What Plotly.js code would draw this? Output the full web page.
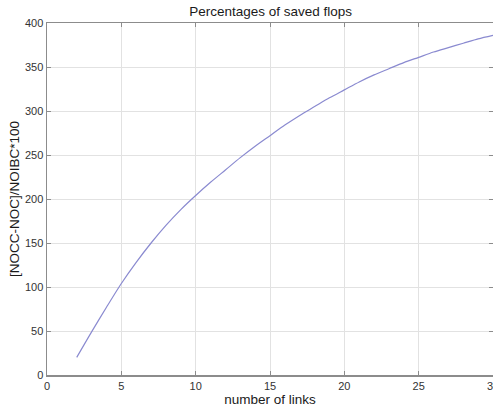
<!DOCTYPE html>
<html>
<head>
<meta charset="utf-8">
<script src="https://cdn.plot.ly/plotly-3.0.1.min.js"></script>
<style>html,body{margin:0;padding:0;background:#fff;}#chart{width:493px;height:410px;}</style>
</head>
<body>
<div id="chart"></div>
<script>
const links = [2,3,4,5,6,7,8,9,10,11,12,13,14,15,16,17,18,19,20,21,22,23,24,25,26,27,28,29,30];
const savedFlops = [20,49,77,104,128,150,170,188,204,219,233,247,260,272,284,295,305,315,324,333,341,348,355,361,367,372,377,382,386];
const xTicks = [0,5,10,15,20,25,30];
const yTicks = [0,50,100,150,200,250,300,350,400];

const FONT = 'Liberation Sans, Arial, sans-serif';

const trace = {
  x: links, y: savedFlops, type: 'scatter', mode: 'lines',
  line: {color: '#8a8ad0', width: 1.2, shape: 'spline', smoothing: 0.8}, hoverinfo: 'none'
};

const axisCommon = {
  showline: true, linecolor: '#8c8c8c', linewidth: 1.5, mirror: 'ticks',
  ticks: 'inside', ticklen: 4, tickcolor: '#8c8c8c', tickwidth: 1,
  showgrid: true, gridcolor: '#e2e2e2', gridwidth: 1, zeroline: false,
  ticklabeloverflow: 'allow',
  tickfont: {family: FONT, size: 11, color: '#333'}
};

const layout = {
  width: 493, height: 410,
  margin: {l: 47, r: 0, t: 23, b: 35},
  paper_bgcolor: '#fff', plot_bgcolor: '#fff',
  showlegend: false,
  title: {text: 'Percentages of saved flops', x: 0.549, xanchor: 'center', y: 0.973, yanchor: 'middle',
    font: {family: FONT, size: 13.5, color: '#1a1a1a'}},
  xaxis: Object.assign({}, axisCommon, {
    range: [0, 30], tickvals: xTicks, ticktext: xTicks.map(String),
    title: {text: 'number of links', standoff: 1, font: {family: FONT, size: 13.5, color: '#1a1a1a'}}
  }),
  yaxis: Object.assign({}, axisCommon, {
    range: [0, 400], tickvals: yTicks, ticktext: yTicks.map(String),
    title: {text: '[NOCC-NOC]/NOIBC*100', standoff: 2, font: {family: FONT, size: 13.5, color: '#1a1a1a'}}
  })
};

Plotly.newPlot('chart', [trace], layout, {staticPlot: true, displayModeBar: false});
</script>
</body>
</html>
